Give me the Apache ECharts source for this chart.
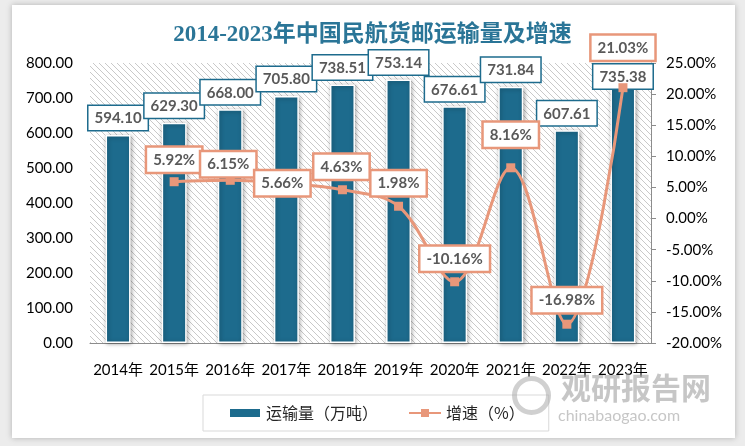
<!DOCTYPE html>
<html>
<head>
<meta charset="utf-8">
<script src="https://cdn.jsdelivr.net/npm/echarts@6/dist/echarts.min.js"></script>
<style>
html,body{margin:0;padding:0;background:#ececec;width:745px;height:446px;overflow:hidden;}
#panel{position:absolute;left:12px;top:5px;width:723px;height:433px;background:#fff;box-shadow:0 0 6px rgba(0,0,0,0.25);}
#chart{position:absolute;left:0;top:0;width:745px;height:446px;}
</style>
</head>
<body>
<div id="panel"></div>
<div id="chart"></div>
<script>
const years = ['2014年','2015年','2016年','2017年','2018年','2019年','2020年','2021年','2022年','2023年'];
const volume = [594.10, 629.30, 668.00, 705.80, 738.51, 753.14, 676.61, 731.84, 607.61, 735.38];
const growth = [null, 5.92, 6.15, 5.66, 4.63, 1.98, -10.16, 8.16, -16.98, 21.03];
const growthLabelOffsets = [null, [0,-22], [-2,-16], [-4,0], [-1,-23], [0,-23], [0,-23], [0,-33], [0,-24], [0,-40]];
const volumeLabelOffsets = [0,0,0,0,0,0,0,0,0,8];

function hatch(){
  const c = document.createElement('canvas');
  c.width = 6; c.height = 6;
  const ctx = c.getContext('2d');
  ctx.fillStyle = '#ffffff';
  ctx.fillRect(0,0,6,6);
  ctx.strokeStyle = '#c9c9c9';
  ctx.lineWidth = 1;
  ctx.beginPath();
  ctx.moveTo(-1,-1); ctx.lineTo(7,7);
  ctx.moveTo(-4,2); ctx.lineTo(4,10);
  ctx.moveTo(2,-4); ctx.lineTo(10,4);
  ctx.stroke();
  return c;
}

const barColor = '#1D6B8D';
const lineColor = '#E8977A';
const chart = echarts.init(document.getElementById('chart'), null, {renderer:'canvas'});
const barData = volume.map((v,i)=>({value:v, label:{offset:[0, volumeLabelOffsets[i]]}}));
const lineData = growth.map((v,i)=> v===null ? null : ({value:v, label:{offset: growthLabelOffsets[i]}}));

chart.setOption({
  backgroundColor: 'transparent',
  title: {
    text: '2014-2023年中国民航货邮运输量及增速',
    left: 'center', top: 19,
    textStyle: {fontFamily: '"Liberation Serif","Noto Sans CJK SC"', fontSize: 23, fontWeight: 'bold', color: '#2A7597'}
  },
  grid: {left: 90, right: 94, top: 63, bottom: 103, show: true, borderWidth: 0,
    backgroundColor: {image: hatch(), repeat: 'repeat'}},
  legend: {
    left: 203, top: 395, padding: [10, 24, 10, 25], itemGap: 30,
    borderColor: '#d9d9d9', borderWidth: 1, backgroundColor: '#fff',
    itemWidth: 32, itemHeight: 10,
    textStyle: {fontSize: 16, color: '#262626', fontFamily: '"Noto Sans CJK SC"'},
    data: [{name: '运输量（万吨）', icon: 'rect'}, {name: '增速（%）'}]
  },
  xAxis: {
    type: 'category', data: years,
    axisLine: {lineStyle: {color: '#8c8c8c', width: 1}},
    axisTick: {show: false},
    axisLabel: {fontSize: 15, color: '#000', margin: 20, interval: 0, fontFamily: 'Lato, "Noto Sans CJK SC"'}
  },
  yAxis: [
    {type: 'value', min: 0, max: 800, interval: 100,
     splitLine: {show: false}, axisLine: {show: false}, axisTick: {show: false},
     axisLabel: {fontSize: 15, color: '#000', margin: 17, fontFamily: 'Lato', formatter: v => v.toFixed(2)}},
    {type: 'value', min: -20, max: 25, interval: 5, position: 'right',
     splitLine: {show: false},
     axisLine: {show: true, lineStyle: {color: '#8c8c8c'}},
     axisTick: {show: true, inside: false, length: 5, lineStyle: {color: '#8c8c8c'}},
     axisLabel: {fontSize: 15, color: '#000', margin: 15, fontFamily: 'Lato', formatter: v => v.toFixed(2) + '%'}}
  ],
  series: [
    {name: '运输量（万吨）', type: 'bar', data: barData, barWidth: 25, yAxisIndex: 0,
     itemStyle: {color: barColor, borderColor: '#fff', borderWidth: 1.5, shadowColor: 'rgba(0,0,0,0.35)', shadowBlur: 4, shadowOffsetX: 1, shadowOffsetY: 1},
     label: {show: true, position: 'top', distance: 5, formatter: p => p.value.toFixed(2),
       fontSize: 15, fontWeight: 'bold', color: '#595959', fontFamily: 'Lato',
       backgroundColor: '#fff', borderColor: barColor, borderWidth: 1.5, padding: [5, 6, 4, 6]}},
    {name: '增速（%）', type: 'line', data: lineData, yAxisIndex: 1, smooth: 0.35,
     symbol: 'rect', symbolSize: 9, z: 5,
     lineStyle: {color: lineColor, width: 3},
     itemStyle: {color: lineColor},
     label: {show: true, position: 'inside', formatter: p => p.value.toFixed(2) + '%',
       fontSize: 15, fontWeight: 'bold', color: '#595959', fontFamily: 'Lato',
       backgroundColor: '#fff', borderColor: lineColor, borderWidth: 2.5, padding: [5, 6, 4, 6]}}
  ],
  graphic: [
    {type: 'circle', left: 512, top: 376, shape: {r: 17}, style: {fill: 'none', stroke: 'rgba(170,170,170,0.55)', lineWidth: 5}, z: 100},
    {type: 'text', left: 561, top: 373, style: {text: '观研报告网', fontSize: 30, fontWeight: 'bold', fill: 'rgba(160,160,160,0.6)', fontFamily: '"Noto Sans CJK SC"'}, z: 100},
    {type: 'text', left: 558, top: 408, style: {text: 'chinabaogao.com', fontSize: 16, fill: 'rgba(160,160,160,0.6)', fontFamily: 'Lato'}, z: 100}
  ]
});
</script>
</body>
</html>
